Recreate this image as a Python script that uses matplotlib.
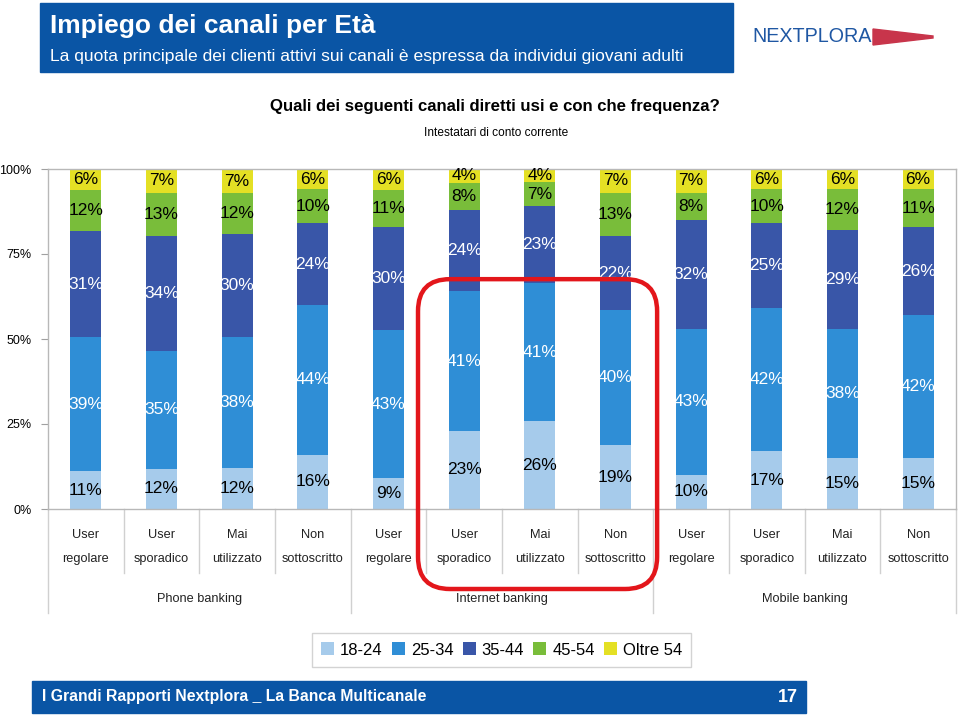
import numpy as np
import matplotlib
matplotlib.use("Agg")
import matplotlib.pyplot as plt
from matplotlib import transforms
from matplotlib.patches import Patch, Rectangle, FancyBboxPatch, Polygon

plt.rcParams['font.family'] = ['Liberation Sans', 'DejaVu Sans']

# ---------------- data ----------------
categories = ["User\nregolare", "User\nsporadico", "Mai\nutilizzato", "Non\nsottoscritto"] * 3
groups = ["Phone banking", "Internet banking", "Mobile banking"]
series = ["18-24", "25-34", "35-44", "45-54", "Oltre 54"]
age_18_24 = [11, 12, 12, 16, 9, 23, 26, 19, 10, 17, 15, 15]
age_25_34 = [39, 35, 38, 44, 43, 41, 41, 40, 43, 42, 38, 42]
age_35_44 = [31, 34, 30, 24, 30, 24, 23, 22, 32, 25, 29, 26]
age_45_54 = [12, 13, 12, 10, 11, 8, 7, 13, 8, 10, 12, 11]
age_over54 = [6, 7, 7, 6, 6, 4, 4, 7, 7, 6, 6, 6]
yticks = [0, 25, 50, 75, 100]

colors = ["#A6CBEB", "#2F8ED6", "#3956A8", "#79BD3A", "#E4E024"]
text_colors = ["black", "white", "white", "black", "black"]
BLUE = "#0A55A5"

W, H = 959, 715
fig = plt.figure(figsize=(W / 100, H / 100), dpi=100)
fig.patch.set_facecolor("white")

def fx(x): return x / W
def fy(y): return 1 - y / H

ax = fig.add_axes([fx(48), fy(509), fx(956) - fx(48), fy(169) - fy(509)])

vals = np.array([age_18_24, age_25_34, age_35_44, age_45_54, age_over54], dtype=float)
norm = vals / vals.sum(axis=0) * 100
x = np.arange(len(categories))
bottom = np.zeros(len(categories))
for i, s in enumerate(series):
    ax.bar(x, norm[i], 0.41, bottom=bottom, color=colors[i], label=s, linewidth=0)
    for j in range(len(x)):
        ax.text(x[j], bottom[j] + norm[i][j] / 2, f"{int(vals[i][j])}%", ha="center", va="center",
                color=text_colors[i], fontsize=12.5)
    bottom += norm[i]

ax.set_xlim(-0.5, len(categories) - 0.5)
ax.set_ylim(0, 100)
ax.set_yticks(yticks)
ax.set_yticklabels([f"{t}%" for t in yticks], fontsize=9)
ax.tick_params(axis="y", length=5, color="#A0A0A0", pad=7)
ax.set_xticks([])
for sp in ax.spines.values():
    sp.set_color("#B8B8B8")
    sp.set_linewidth(1.0)

# category axis labels & separators
bt = transforms.blended_transform_factory(ax.transData, fig.transFigure)
for j, c in enumerate(categories):
    a, b = c.split("\n")
    ax.text(j, fy(535), a, transform=bt, ha="center", va="center", fontsize=9.2, color="#222222")
    ax.text(j, fy(559), b, transform=bt, ha="center", va="center", fontsize=9.2, color="#222222")
for k in range(len(categories) + 1):
    xb = k - 0.5
    long_ = (k % 4 == 0)
    ax.plot([xb, xb], [fy(509), fy(613 if long_ else 573)], transform=bt, color="#D0D0D0",
            lw=1.0, clip_on=False)
for g, name in enumerate(groups):
    ax.text(g * 4 + 1.5, fy(599), name, transform=bt, ha="center", va="center", fontsize=9.2,
            color="#222222")

# header
fig.patches.append(Rectangle((fx(40), fy(72)), fx(733) - fx(40), fy(3) - fy(72),
                             transform=fig.transFigure, color=BLUE, zorder=0))
fig.text(fx(50), fy(26), "Impiego dei canali per Età", color="white", fontsize=19,
         fontweight="bold", va="center")
fig.text(fx(50), fy(57), "La quota principale dei clienti attivi sui canali è espressa da individui giovani adulti",
         color="white", fontsize=12.6, va="center")
fig.text(fx(495), fy(106), "Quali dei seguenti canali diretti usi e con che frequenza?",
         fontsize=12.1, fontweight="bold", ha="center", va="center")
fig.text(fx(496), fy(133), "Intestatari di conto corrente", fontsize=8.6, ha="center", va="center")

# logo
fig.text(fx(752), fy(37), "NEXTPLORA", color="#1F57A3", fontsize=14.2, va="center", ha="left")
fig.patches.append(Polygon([(fx(873), fy(29)), (fx(933), fy(36)), (fx(933), fy(38)), (fx(873), fy(45))],
                           closed=True, transform=fig.transFigure, color="#C8354B"))

# footer
fig.patches.append(Rectangle((fx(32), fy(713)), fx(806) - fx(32), fy(681) - fy(713),
                             transform=fig.transFigure, color=BLUE, zorder=0))
fig.text(fx(42), fy(697), "I Grandi Rapporti Nextplora _ La Banca Multicanale", color="white",
         fontsize=11.3, fontweight="bold", va="center")
fig.text(fx(798), fy(697), "17", color="white", fontsize=13, fontweight="bold", va="center", ha="right")

# legend
handles = [Patch(facecolor=colors[i], edgecolor="none", label=series[i]) for i in range(len(series))]
leg = fig.legend(handles=handles, loc="center", bbox_to_anchor=(fx(501.5), fy(650)), ncol=5,
                 fontsize=12, frameon=True, fancybox=False, handlelength=0.78, handleheight=0.78,
                 handletextpad=0.36, columnspacing=0.55, borderpad=0.55)
leg.get_frame().set_edgecolor("#C8C8C8")
leg.get_frame().set_linewidth(1.0)

# red highlight box
fig.canvas.draw()
p0 = ax.transData.transform((4.39, 0))
p1 = ax.transData.transform((7.55, 67.6))
ypix_bottom = (1 - 589 / H) * H
rb = FancyBboxPatch((p0[0], ypix_bottom), p1[0] - p0[0], p1[1] - ypix_bottom,
                    boxstyle="round,pad=0,rounding_size=32", transform=transforms.IdentityTransform(),
                    fill=False, edgecolor="#E3161B", linewidth=3.2, zorder=10)
fig.patches.append(rb)

fig.savefig("out.png", dpi=100)
